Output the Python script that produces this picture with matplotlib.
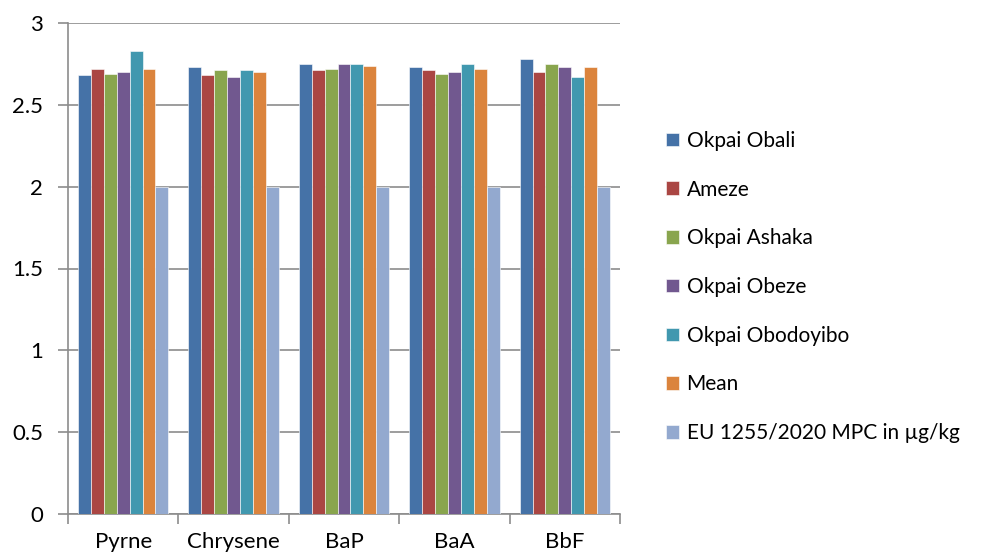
import numpy as np
import matplotlib.pyplot as plt

plt.rcParams['font.family'] = ['Lato', 'DejaVu Sans']

compounds = ['Pyrne', 'Chrysene', 'BaP', 'BaA', 'BbF']
series = ['Okpai Obali', 'Ameze', 'Okpai Ashaka', 'Okpai Obeze',
          'Okpai Obodoyibo', 'Mean', 'EU 1255/2020 MPC in µg/kg']

okpai_obali = [2.68, 2.73, 2.75, 2.73, 2.78]
ameze = [2.72, 2.68, 2.71, 2.71, 2.70]
okpai_ashaka = [2.69, 2.71, 2.72, 2.69, 2.75]
okpai_obeze = [2.70, 2.67, 2.75, 2.70, 2.73]
okpai_obodoyibo = [2.83, 2.71, 2.75, 2.75, 2.67]
mean = [2.72, 2.70, 2.74, 2.72, 2.73]
eu_mpc = [2.0, 2.0, 2.0, 2.0, 2.0]

values = [okpai_obali, ameze, okpai_ashaka, okpai_obeze,
          okpai_obodoyibo, mean, eu_mpc]
colors = ['#4572A7', '#AA4643', '#89A54E', '#71588F',
          '#4198AF', '#DB843D', '#93A9CF']

fig = plt.figure(figsize=(9.91, 5.58), dpi=100)
ax = fig.add_axes([68/991, 44/558, 552/991, 491/558])

x = np.arange(len(compounds))
w = 0.117
for i, (name, vals) in enumerate(zip(series, values)):
    ax.bar(x + (i - 3) * w, vals, w, color=colors[i], label=name,
           edgecolor='white', linewidth=0.4, zorder=3)

ax.set_xlim(-0.5, len(compounds) - 0.5)
ax.set_ylim(0, 3)
ax.set_yticks(np.arange(0, 3.01, 0.5))
ax.set_yticklabels(['0', '0.5', '1', '1.5', '2', '2.5', '3'])
ax.yaxis.grid(True, color='#8c8c8c', linewidth=1.2, zorder=0)

# category labels centred, tick marks on the group boundaries
ax.set_xticks(x)
ax.set_xticklabels(compounds)
ax.set_xticks(np.arange(-0.5, len(compounds)), minor=True)
ax.tick_params(axis='x', which='major', length=0, pad=13, labelsize=16)
ax.tick_params(axis='x', which='minor', length=7, color='#8c8c8c', width=1.2)
ax.tick_params(axis='y', length=7, color='#8c8c8c', width=1.2, pad=11, labelsize=16)

for s in ['top', 'right']:
    ax.spines[s].set_visible(False)
for s in ['left', 'bottom']:
    ax.spines[s].set_color('#8c8c8c')
    ax.spines[s].set_linewidth(1.2)

fig.legend(loc='center left', bbox_to_anchor=(658/991, 1 - 287/558), frameon=False,
           fontsize=15, labelspacing=1.38, handlelength=0.63, handleheight=0.63,
           handletextpad=0.34, borderaxespad=0)

fig.savefig('out.png', dpi=100)
